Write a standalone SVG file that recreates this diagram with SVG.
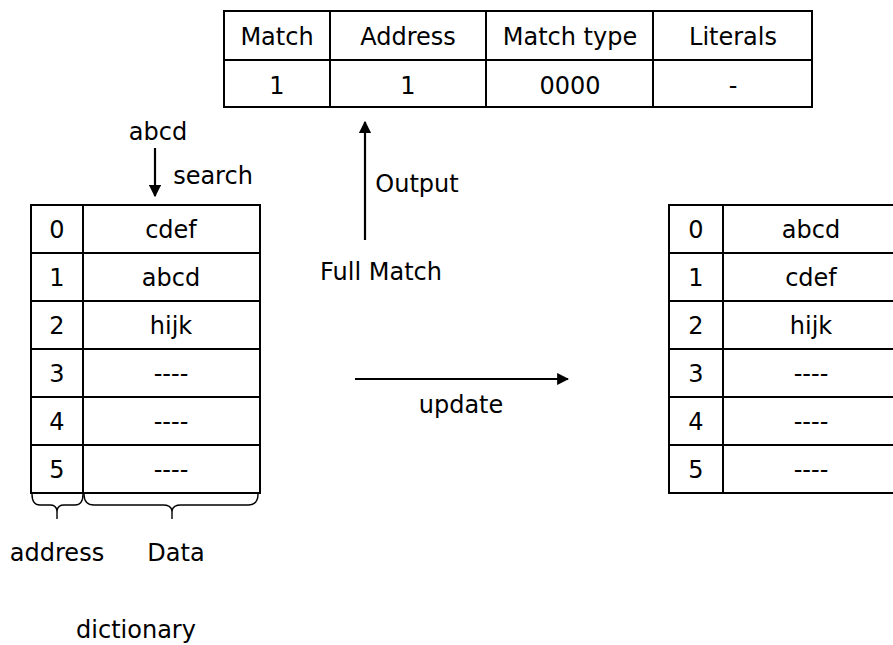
<svg xmlns="http://www.w3.org/2000/svg" width="893" height="645" viewBox="0 0 893 645">
  <style>
    text { font-family: "DejaVu Sans", Verdana, sans-serif; font-size: 24px; fill: #000; text-anchor: middle; }
    .cell { fill: #fff; stroke: #000; stroke-width: 2; }
    .rule { stroke: #000; stroke-width: 2; fill: none; }
    .conn { stroke: #000; stroke-width: 2.2; fill: none; }
    .brace { stroke: #000; stroke-width: 1.4; fill: none; }
  </style>
  <defs>
    <marker id="arrow" viewBox="0 0 10 10" refX="9" refY="5" markerWidth="5.5" markerHeight="5.5" orient="auto" markerUnits="strokeWidth">
      <path d="M0,0 L10,5 L0,10 Z" fill="#000"/>
    </marker>
  </defs>
  <rect width="893" height="645" fill="#fff"/>

  <!-- Output record table -->
  <g id="output-table">
    <rect class="cell" x="224" y="11" width="588" height="96"/>
    <line class="rule" x1="224" y1="60" x2="812" y2="60"/>
    <line class="rule" x1="330" y1="11" x2="330" y2="107"/>
    <line class="rule" x1="486" y1="11" x2="486" y2="107"/>
    <line class="rule" x1="653" y1="11" x2="653" y2="107"/>
    <text x="277" y="45">Match</text>
    <text x="408" y="45">Address</text>
    <text x="570" y="45">Match type</text>
    <text x="733" y="45">Literals</text>
    <text x="277" y="94">1</text>
    <text x="408" y="94">1</text>
    <text x="570" y="94">0000</text>
    <text x="733" y="94">-</text>
  </g>

  <!-- Dictionary before update -->
  <g id="dictionary-before">
    <rect class="cell" x="31" y="205" width="229" height="288"/>
    <line class="rule" x1="83" y1="205" x2="83" y2="493"/>
    <line class="rule" x1="31" y1="253" x2="260" y2="253"/>
    <line class="rule" x1="31" y1="301" x2="260" y2="301"/>
    <line class="rule" x1="31" y1="349" x2="260" y2="349"/>
    <line class="rule" x1="31" y1="397" x2="260" y2="397"/>
    <line class="rule" x1="31" y1="445" x2="260" y2="445"/>
    <text x="57" y="238">0</text><text x="171" y="238">cdef</text>
    <text x="57" y="286">1</text><text x="171" y="286">abcd</text>
    <text x="57" y="334">2</text><text x="171" y="334">hijk</text>
    <text x="57" y="382">3</text><text x="171" y="382">----</text>
    <text x="57" y="430">4</text><text x="171" y="430">----</text>
    <text x="57" y="478">5</text><text x="171" y="478">----</text>
  </g>

  <!-- Braces under the columns -->
  <g id="braces">
    <path class="brace" d="M32,494 Q32,505 40,505 L50,505 Q57,505 57,512 L57,519 M57,512 Q57,505 64,505 L75,505 Q83,505 83,494"/>
    <path class="brace" d="M84,494 Q84,505 94,505 L163,505 Q172,505 172,512 L172,519 M172,512 Q172,505 181,505 L248,505 Q258,505 258,494"/>
  </g>

  <!-- Dictionary after update -->
  <g id="dictionary-after">
    <rect class="cell" x="669" y="205" width="230" height="288"/>
    <line class="rule" x1="723" y1="205" x2="723" y2="493"/>
    <line class="rule" x1="669" y1="253" x2="893" y2="253"/>
    <line class="rule" x1="669" y1="301" x2="893" y2="301"/>
    <line class="rule" x1="669" y1="349" x2="893" y2="349"/>
    <line class="rule" x1="669" y1="397" x2="893" y2="397"/>
    <line class="rule" x1="669" y1="445" x2="893" y2="445"/>
    <text x="696" y="238">0</text><text x="811" y="238">abcd</text>
    <text x="696" y="286">1</text><text x="811" y="286">cdef</text>
    <text x="696" y="334">2</text><text x="811" y="334">hijk</text>
    <text x="696" y="382">3</text><text x="811" y="382">----</text>
    <text x="696" y="430">4</text><text x="811" y="430">----</text>
    <text x="696" y="478">5</text><text x="811" y="478">----</text>
  </g>

  <!-- Connectors -->
  <g id="connectors">
    <line class="conn" x1="155" y1="148" x2="155" y2="196" marker-end="url(#arrow)"/>
    <line class="conn" x1="365" y1="240" x2="365" y2="122" marker-end="url(#arrow)"/>
    <line class="conn" x1="355" y1="379" x2="568" y2="379" marker-end="url(#arrow)"/>
  </g>

  <!-- Labels -->
  <g id="labels">
    <text x="158" y="140">abcd</text>
    <text x="213" y="184">search</text>
    <text x="417" y="192">Output</text>
    <text x="381" y="280">Full Match</text>
    <text x="461" y="413">update</text>
    <text x="57" y="561">address</text>
    <text x="176" y="561">Data</text>
    <text x="136" y="638">dictionary</text>
  </g>
</svg>
